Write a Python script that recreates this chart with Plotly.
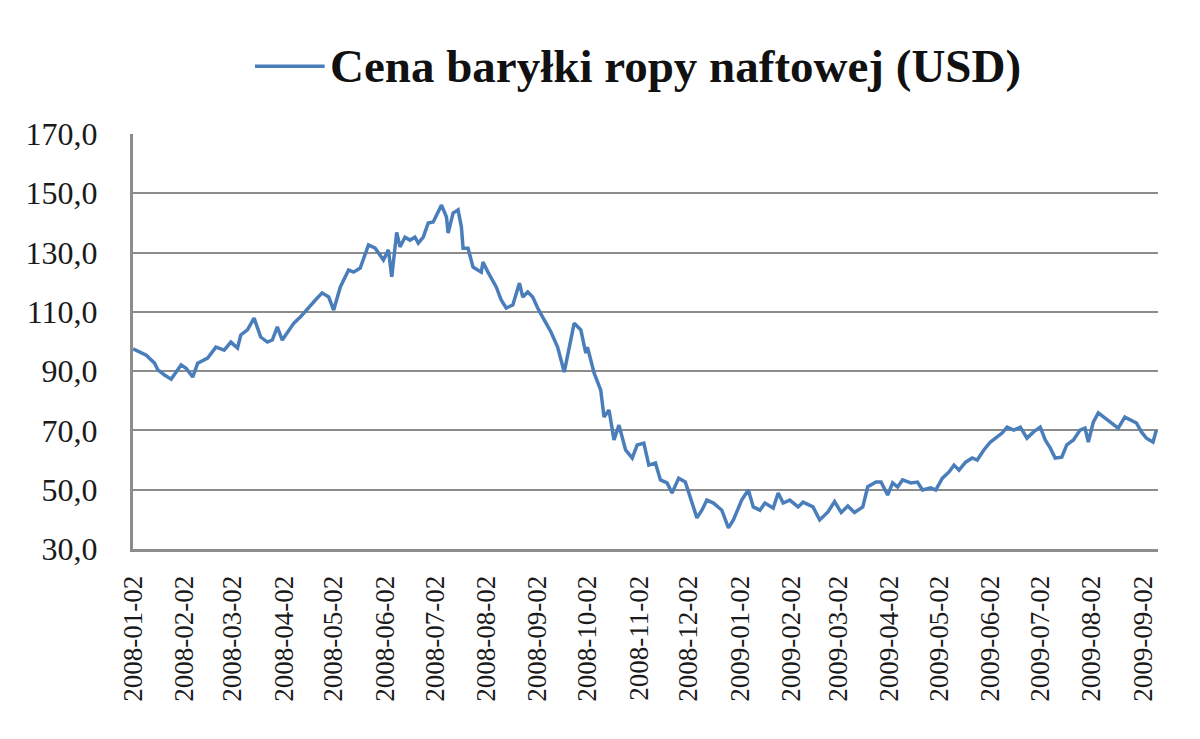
import plotly.graph_objects as go

# Cena baryłki ropy naftowej (USD), odczyt z wykresu
dates = [
    '2008-01-02', '2008-01-10', '2008-01-15', '2008-01-17', '2008-01-21', '2008-01-25',
    '2008-01-31', '2008-02-03', '2008-02-07', '2008-02-10', '2008-02-16', '2008-02-21',
    '2008-02-26', '2008-03-01', '2008-03-05', '2008-03-07', '2008-03-11', '2008-03-15',
    '2008-03-19', '2008-03-23', '2008-03-26', '2008-03-29', '2008-04-01', '2008-04-04',
    '2008-04-08', '2008-04-12', '2008-04-17', '2008-04-21', '2008-04-25', '2008-04-29',
    '2008-05-02', '2008-05-06', '2008-05-11', '2008-05-14', '2008-05-18', '2008-05-23',
    '2008-05-27', '2008-06-01', '2008-06-04', '2008-06-06', '2008-06-09', '2008-06-11',
    '2008-06-14', '2008-06-17', '2008-06-20', '2008-06-22', '2008-06-25', '2008-06-28',
    '2008-07-01', '2008-07-06', '2008-07-09', '2008-07-10', '2008-07-13', '2008-07-16',
    '2008-07-18', '2008-07-19', '2008-07-22', '2008-07-25', '2008-07-30', '2008-07-31',
    '2008-08-03', '2008-08-08', '2008-08-11', '2008-08-14', '2008-08-18', '2008-08-22',
    '2008-08-24', '2008-08-27', '2008-08-30', '2008-09-02', '2008-09-06', '2008-09-10',
    '2008-09-14', '2008-09-18', '2008-09-24', '2008-09-28', '2008-10-01', '2008-10-02',
    '2008-10-06', '2008-10-10', '2008-10-12', '2008-10-15', '2008-10-18', '2008-10-21',
    '2008-10-25', '2008-10-29', '2008-11-01', '2008-11-05', '2008-11-08', '2008-11-12',
    '2008-11-15', '2008-11-19', '2008-11-22', '2008-11-26', '2008-11-30', '2008-12-03',
    '2008-12-07', '2008-12-10', '2008-12-13', '2008-12-17', '2008-12-22', '2008-12-26',
    '2008-12-29', '2009-01-03', '2009-01-07', '2009-01-10', '2009-01-14', '2009-01-17',
    '2009-01-22', '2009-01-25', '2009-01-28', '2009-02-01', '2009-02-06', '2009-02-09',
    '2009-02-15', '2009-02-19', '2009-02-24', '2009-02-28', '2009-03-04', '2009-03-08',
    '2009-03-12', '2009-03-17', '2009-03-20', '2009-03-25', '2009-03-28', '2009-04-01',
    '2009-04-04', '2009-04-07', '2009-04-10', '2009-04-15', '2009-04-19', '2009-04-22',
    '2009-04-27', '2009-04-30', '2009-05-04', '2009-05-08', '2009-05-11', '2009-05-14',
    '2009-05-18', '2009-05-22', '2009-05-25', '2009-05-29', '2009-06-02', '2009-06-06',
    '2009-06-09', '2009-06-12', '2009-06-16', '2009-06-20', '2009-06-24', '2009-06-28',
    '2009-07-02', '2009-07-05', '2009-07-08', '2009-07-11', '2009-07-15', '2009-07-18',
    '2009-07-22', '2009-07-26', '2009-07-29', '2009-07-31', '2009-08-03', '2009-08-06',
    '2009-08-10', '2009-08-14', '2009-08-18', '2009-08-22', '2009-08-26', '2009-08-29',
    '2009-09-01', '2009-09-04', '2009-09-08', '2009-09-10',
]
prices = [
    97.5, 95.4, 92.7, 90.4, 88.7, 87.3,
    92.1, 91.0, 88.0, 92.7, 94.4, 98.1,
    97.1, 99.8, 97.8, 102.2, 103.9, 107.9,
    101.5, 99.8, 100.5, 104.9, 100.5, 102.9,
    106.2, 108.3, 111.6, 114.0, 116.4, 115.0,
    110.6, 118.4, 124.1, 123.4, 124.8, 132.6,
    131.5, 127.5, 130.9, 121.8, 136.8, 131.9,
    135.2, 134.2, 135.2, 133.2, 135.2, 140.0,
    140.3, 146.0, 142.0, 136.6, 143.3, 144.4,
    138.6, 131.5, 131.5, 125.1, 123.4, 126.8,
    123.4, 118.4, 114.0, 111.3, 112.3, 119.7,
    115.0, 116.7, 115.0, 111.3, 107.2, 103.2,
    98.1, 89.7, 106.2, 103.9, 96.1, 98.1,
    89.4, 83.6, 74.5, 76.9, 66.8, 71.8,
    63.4, 60.7, 65.1, 65.7, 58.3, 59.0,
    53.3, 52.3, 48.9, 53.9, 52.6, 47.5,
    40.5, 43.1, 46.5, 45.5, 43.1, 37.1,
    39.8, 46.5, 49.9, 44.2, 43.1, 45.5,
    43.8, 48.9, 45.5, 46.5, 44.2, 45.8,
    44.2, 39.8, 42.5, 46.0, 42.3, 44.5,
    42.3, 44.2, 51.0, 52.6, 52.6, 48.2,
    52.3, 50.9, 53.3, 52.3, 52.6, 49.9,
    50.6, 49.9, 53.9, 56.0, 58.3, 56.6,
    59.3, 60.7, 60.0, 63.4, 66.1, 67.8,
    69.1, 71.1, 70.1, 71.1, 67.4, 69.5,
    71.1, 66.8, 64.1, 60.7, 61.0, 65.1,
    66.8, 70.1, 70.8, 66.1, 72.8, 75.9,
    74.2, 72.8, 70.8, 74.5, 73.5, 72.5,
    69.5, 67.4, 66.1, 70.1,
]
series_name = 'Cena baryłki ropy naftowej (USD)'

line_color = '#4a7ebb'
grid_color = '#8c8c8c'
serif = 'Liberation Serif, Times New Roman, serif'

fig = go.Figure()
fig.add_trace(go.Scatter(x=dates, y=prices, name=series_name, mode='lines',
                         line=dict(color=line_color, width=3.5),
                         showlegend=False))

# legenda nad wykresem: próbka linii + nazwa serii
fig.add_shape(type='line', xref='paper', yref='paper',
              x0=0.119, x1=0.187, y0=1.163, y1=1.163,
              line=dict(color=line_color, width=3.5))
fig.add_annotation(text='<b>' + series_name + '</b>', xref='paper', yref='paper',
                   x=0.190, y=1.163, xanchor='left', yanchor='middle',
                   showarrow=False, font=dict(family=serif, size=47, color='#111111'))

# strona ma 8 px marginesu, stąd przesunięcie
fig.update_layout(
    width=1200, height=739,
    margin=dict(l=125, r=50, t=126, b=198),
    paper_bgcolor='white', plot_bgcolor='white',
    separators=', ',
    showlegend=False,
)
fig.update_xaxes(
    type='date', range=['2008-01-02', '2009-09-11'],
    tick0='2008-01-02', dtick='M1', tickformat='%Y-%m-%d',
    tickangle=-90, ticks='', showgrid=False,
    showline=True, linecolor=grid_color, linewidth=3,
    ticklabelstandoff=13,
    tickfont=dict(family=serif, size=27, color='#1a1a1a'),
)
fig.update_yaxes(
    range=[30, 170], dtick=20, tick0=30, tickformat='.1f',
    showgrid=True, gridcolor=grid_color, gridwidth=2,
    showline=True, linecolor=grid_color, linewidth=3,
    zeroline=False, ticks='', ticklabelstandoff=26,
    tickfont=dict(family=serif, size=32, color='#1a1a1a'),
)

fig.write_html('out.html')
